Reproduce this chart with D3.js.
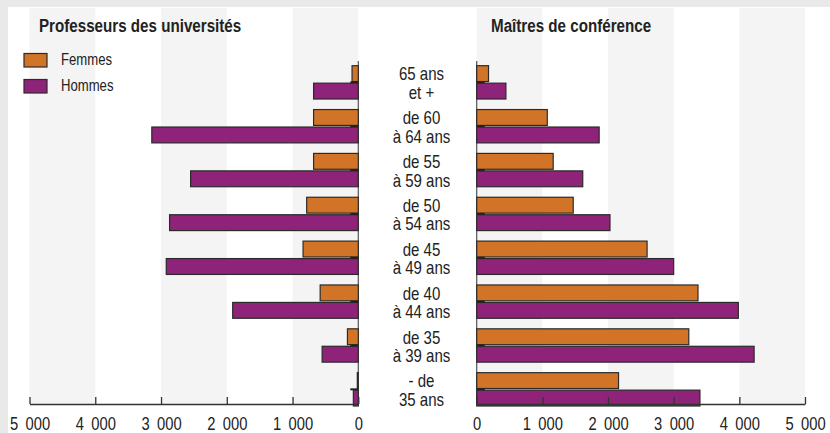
<!DOCTYPE html>
<html>
<head>
<meta charset="utf-8">
<script src="https://cdn.jsdelivr.net/npm/d3@7"></script>
<style>
  body { margin: 0; background: #e9e9e9; }
  svg { display: block; }
  text { font-family: "Liberation Sans", Arial, sans-serif; fill: #222; }
</style>
</head>
<body>
<script>
var w = 830;
var h = 433;

// Age groups (top to bottom), two text lines each
var ages = ["65+", "60-64", "55-59", "50-54", "45-49", "40-44", "35-39", "<35"];
var ageLines = [
  ["65 ans", "et +"],
  ["de 60", "à 64 ans"],
  ["de 55", "à 59 ans"],
  ["de 50", "à 54 ans"],
  ["de 45", "à 49 ans"],
  ["de 40", "à 44 ans"],
  ["de 35", "à 39 ans"],
  ["- de", "35 ans"]
];

// Professeurs des universités
var profFemmes = [95, 680, 680, 785, 840, 580, 165, 15];
var profHommes = [680, 3140, 2550, 2870, 2920, 1910, 550, 75];

// Maîtres de conférence
var mcfFemmes = [180, 1075, 1165, 1470, 2595, 3370, 3230, 2160];
var mcfHommes = [445, 1865, 1615, 2030, 3000, 3985, 4225, 3400];

var ticks = [0, 1000, 2000, 3000, 4000, 5000];
var seriesNames = ["Femmes", "Hommes"];
var colors = ["#d27428", "#8e2379"];

// the original uses a narrow font: squeeze Liberation Sans horizontally
var narrow = "scale(0.82,1)";

var svg = d3.select("body")
  .append("svg")
  .attr("width", w)
  .attr("height", h);

// white panel
svg.append("rect")
  .attr("x", 8)
  .attr("y", 7)
  .attr("width", w - 8)
  .attr("height", h - 7)
  .attr("fill", "#fff");

var axisY = 404;
var topY = 8;

// Scales
var xLeft = d3.scaleLinear().domain([0, 5000]).range([358.3, 29.5]);
var xRight = d3.scaleLinear().domain([0, 5000]).range([476.7, 805]);

var yScale = d3.scaleBand()
  .domain(ages)
  .range([65.7, 406])
  .paddingInner(0.24)
  .paddingOuter(0);

var half = yScale.bandwidth() / 2;

// alternating grey bands
function bands(x) {
  svg.append("g")
    .selectAll("rect")
    .data([0, 2, 4])
    .enter()
    .append("rect")
    .attr("x", function(d) { return Math.min(x(d * 1000), x(d * 1000 + 1000)); })
    .attr("y", topY)
    .attr("width", function(d) { return Math.abs(x(d * 1000 + 1000) - x(d * 1000)); })
    .attr("height", axisY - topY)
    .attr("fill", "#f4f4f4");
}
bands(xLeft);
bands(xRight);

// zero lines
svg.append("line")
  .attr("x1", xLeft(0)).attr("x2", xLeft(0))
  .attr("y1", 61).attr("y2", axisY)
  .attr("stroke", "#555").attr("stroke-width", 1.2);
svg.append("line")
  .attr("x1", xRight(0)).attr("x2", xRight(0))
  .attr("y1", 61).attr("y2", axisY)
  .attr("stroke", "#555").attr("stroke-width", 1.2);

// Bars
function drawBars(values, x, idx) {
  svg.append("g")
    .selectAll("rect")
    .data(values)
    .enter()
    .append("rect")
    .attr("x", function(d) { return Math.min(x(0), x(d)); })
    .attr("y", function(d, i) { return yScale(ages[i]) + idx * (half + 0.8); })
    .attr("width", function(d) { return Math.abs(x(d) - x(0)); })
    .attr("height", half - 0.8)
    .attr("fill", colors[idx])
    .attr("stroke", "#2b2b2b")
    .attr("stroke-width", 1.2);
}
drawBars(profFemmes, xLeft, 0);
drawBars(profHommes, xLeft, 1);
drawBars(mcfFemmes, xRight, 0);
drawBars(mcfHommes, xRight, 1);

// small category ticks at zero line
var catLeft = d3.axisLeft(yScale).tickSize(8).tickFormat("");
var catRight = d3.axisRight(yScale).tickSize(8).tickFormat("");
svg.append("g")
  .attr("transform", "translate(" + xLeft(0) + ",0)")
  .call(catLeft)
  .call(function(g) { g.select(".domain").remove(); })
  .selectAll("line").attr("stroke", "#222").attr("stroke-width", 2);
svg.append("g")
  .attr("transform", "translate(" + xRight(0) + ",0)")
  .call(catRight)
  .call(function(g) { g.select(".domain").remove(); })
  .selectAll("line").attr("stroke", "#222").attr("stroke-width", 2);

// X axes
var fmt = function(d) { return d3.format(",")(d).replace(",", "\u2002"); };

function drawAxis(x) {
  var g = svg.append("g")
    .attr("transform", "translate(0," + axisY + ")")
    .call(d3.axisBottom(x).tickValues(ticks).tickSize(-7).tickSizeOuter(0).tickFormat(fmt));
  g.select(".domain").attr("stroke", "#333").attr("stroke-width", 1.3);
  g.selectAll(".tick line").attr("stroke", "#333").attr("stroke-width", 1.3);
  g.selectAll(".tick text")
    .attr("y", 26.5)
    .attr("dy", 0)
    .attr("transform", narrow)
    .style("font-size", "18px")
    .style("fill", "#222");
}
drawAxis(xLeft);
drawAxis(xRight);

// age labels in the middle
var labels = svg.append("g")
  .attr("transform", "translate(421.5,0) scale(0.86,1)")
  .selectAll("text")
  .data(ageLines)
  .enter()
  .append("text")
  .attr("text-anchor", "middle")
  .style("font-size", "17.5px");
labels.append("tspan")
  .attr("x", 0)
  .attr("y", function(d, i) { return yScale(ages[i]) + 14.8; })
  .text(function(d) { return d[0]; });
labels.append("tspan")
  .attr("x", 0)
  .attr("y", function(d, i) { return yScale(ages[i]) + 33.1; })
  .text(function(d) { return d[1]; });

// Titles
svg.append("text")
  .attr("transform", "translate(39,32) " + narrow)
  .style("font-size", "18.5px")
  .style("font-weight", "bold")
  .text("Professeurs des universités");

svg.append("text")
  .attr("transform", "translate(491,32) " + narrow)
  .style("font-size", "18.5px")
  .style("font-weight", "bold")
  .text("Maîtres de conférence");

// Legend
var legend = svg.append("g")
  .selectAll("g")
  .data(seriesNames)
  .enter()
  .append("g")
  .attr("transform", function(d, i) { return "translate(24," + (53.5 + i * 26) + ")"; });
legend.append("rect")
  .attr("width", 23)
  .attr("height", 13.5)
  .attr("fill", function(d, i) { return colors[i]; })
  .attr("stroke", "#2b2b2b")
  .attr("stroke-width", 1.2);
legend.append("text")
  .attr("transform", "translate(37,11.5) " + narrow)
  .style("font-size", "16px")
  .text(function(d) { return d; });
</script>
</body>
</html>
